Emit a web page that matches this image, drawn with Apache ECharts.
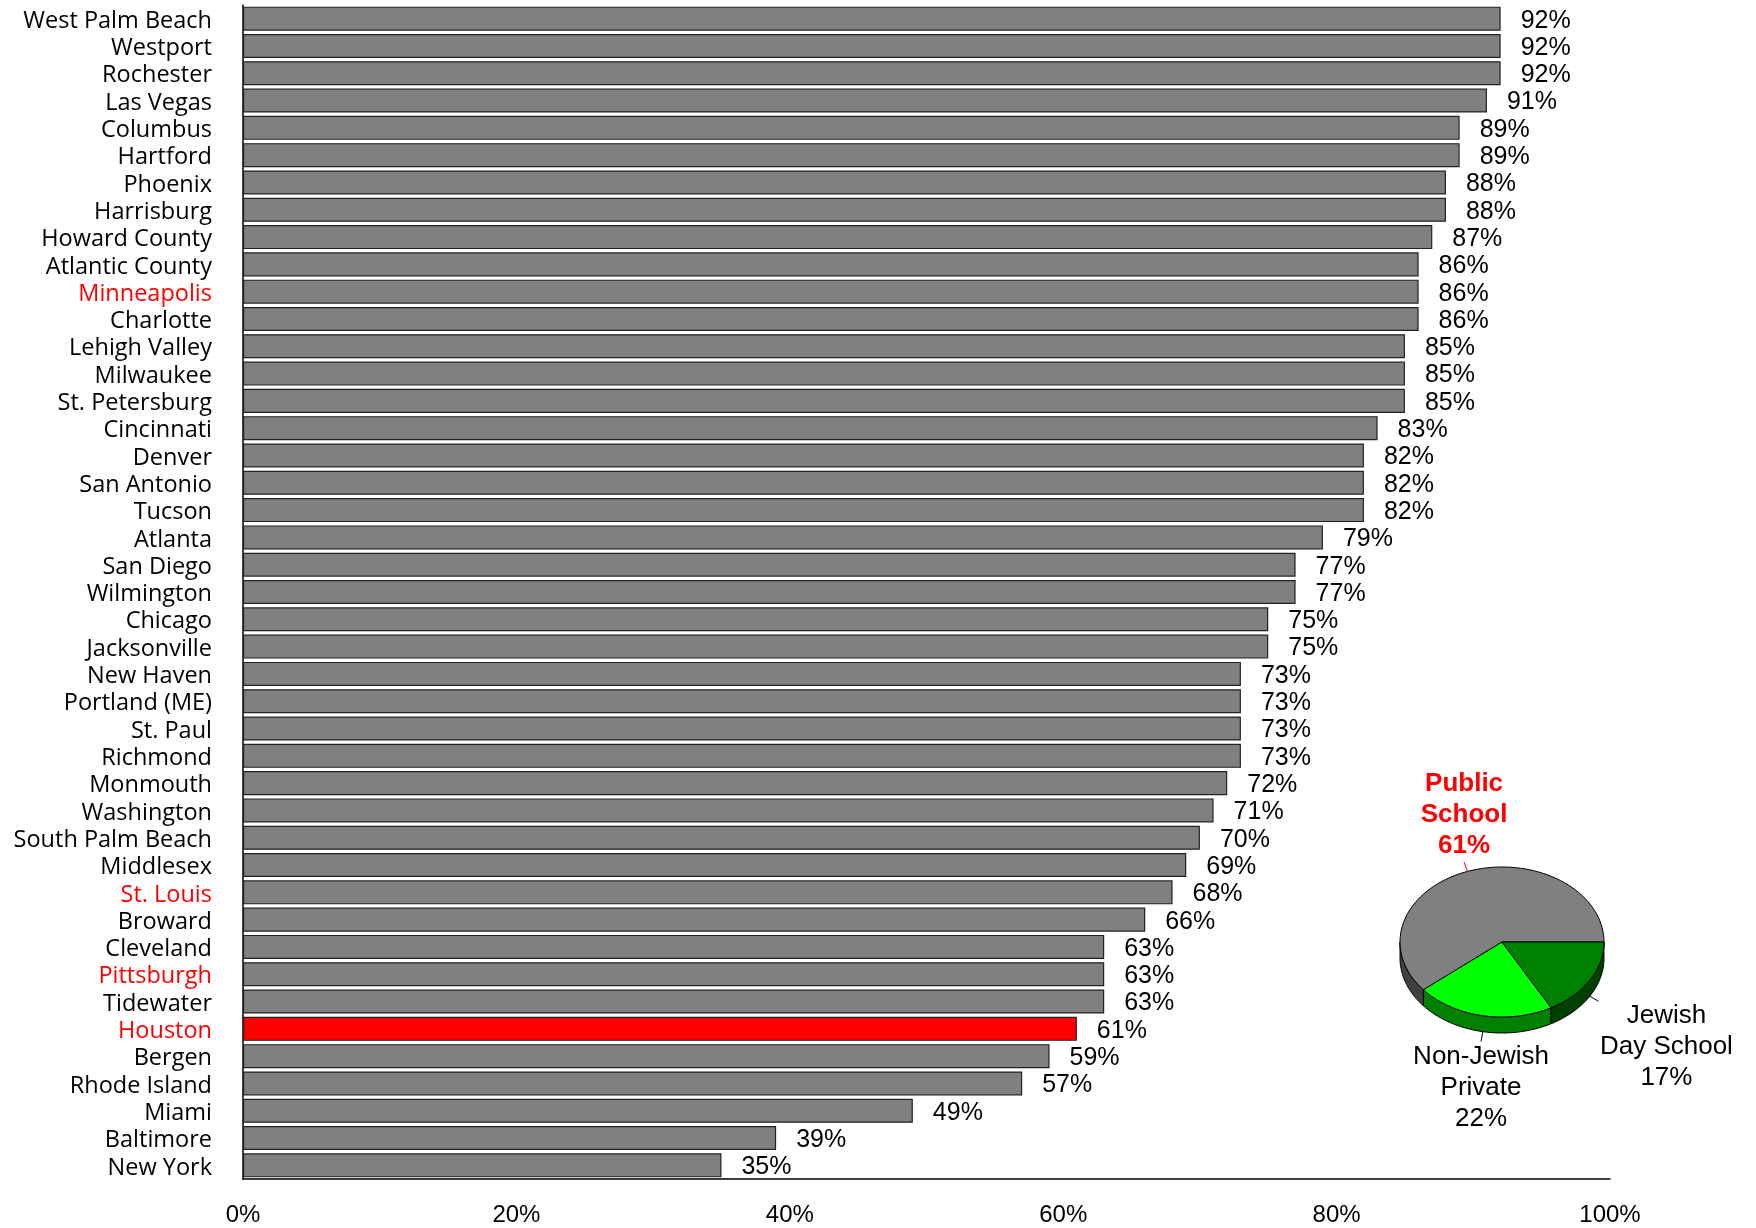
<!DOCTYPE html>
<html>
<head>
<meta charset="utf-8">
<script src="https://cdn.jsdelivr.net/npm/echarts@6/dist/echarts.min.js"></script>
<style>
html,body{margin:0;padding:0;background:#fff;}
#chart{width:1756px;height:1228px;}
</style>
</head>
<body>
<div id="chart"></div>
<script>
// ---- data ----
const cities = ["West Palm Beach","Westport","Rochester","Las Vegas","Columbus","Hartford","Phoenix","Harrisburg","Howard County","Atlantic County","Minneapolis","Charlotte","Lehigh Valley","Milwaukee","St. Petersburg","Cincinnati","Denver","San Antonio","Tucson","Atlanta","San Diego","Wilmington","Chicago","Jacksonville","New Haven","Portland (ME)","St. Paul","Richmond","Monmouth","Washington","South Palm Beach","Middlesex","St. Louis","Broward","Cleveland","Pittsburgh","Tidewater","Houston","Bergen","Rhode Island","Miami","Baltimore","New York"];
const publicSchoolPct = [92,92,92,91,89,89,88,88,87,86,86,86,85,85,85,83,82,82,82,79,77,77,75,75,73,73,73,73,72,71,70,69,68,66,63,63,63,61,59,57,49,39,35];
const highlightedCities = ["Minneapolis","St. Louis","Pittsburgh","Houston"];
const focusCity = "Houston";
const xTicks = [0,20,40,60,80,100];

const pieNames = ["Public\nSchool","Non-Jewish\nPrivate","Jewish\nDay School"];
const pieValues = [61,22,17];

// ---- styles ----
const pieColors = ["#808080","#00ff00","#008000"];
const wallColors = ["#404040","#008000","#004000"];
const pieLabelColors = ["#ff0000","#000000","#000000"];
const pieLabelWeights = ["bold","normal","normal"];
const pieLabelOffsets = [[0,-47],[0,46],[68,46]];
const CX = 1502, CY = 942, RX = 102, RY = 75, DEPTH = 16;
const cityFont = '"Open Sans", sans-serif';

function renderPie(params, api) {
  const i = params.dataIndex;
  const total = pieValues.reduce((a,b)=>a+b,0);
  let before = 0;
  for (let k=0;k<i;k++) before += pieValues[k];
  const a0 = before/total*2*Math.PI;
  const a1 = (before+api.value(0))/total*2*Math.PI;
  const P = (t,d) => [CX + RX*Math.cos(t), CY - RY*Math.sin(t) + (d||0)];
  const children = [];
  const w0 = Math.max(a0, Math.PI), w1 = Math.min(a1, 2*Math.PI);
  if (w1 > w0) {
    const pts = [];
    const n = 40;
    for (let k=0;k<=n;k++) pts.push(P(w0+(w1-w0)*k/n));
    for (let k=n;k>=0;k--) pts.push(P(w0+(w1-w0)*k/n, DEPTH));
    children.push({type:'polygon', shape:{points:pts}, style:{fill:wallColors[i], stroke:'#000', lineWidth:1}, z2:1});
  }
  const tp = [[CX,CY]];
  const n2 = 80;
  for (let k=0;k<=n2;k++) tp.push(P(a0+(a1-a0)*k/n2));
  children.push({type:'polygon', shape:{points:tp}, style:{fill:pieColors[i], stroke:'#000', lineWidth:1}, z2:2});
  const m = (a0+a1)/2;
  const d = Math.sin(m) < 0 ? DEPTH : 0;
  const s = P(m, d);
  const e = [s[0] + Math.cos(m)*10, s[1] - Math.sin(m)*10];
  children.push({type:'line', shape:{x1:s[0],y1:s[1],x2:e[0],y2:e[1]}, style:{stroke:pieLabelColors[i], lineWidth:1}, z2:3});
  children.push({type:'text', x:e[0]+pieLabelOffsets[i][0], y:e[1]+pieLabelOffsets[i][1],
    style:{text: pieNames[i] + "\n" + api.value(0) + "%", fill:pieLabelColors[i],
      font: pieLabelWeights[i] + ' 26px "Liberation Sans", Arial, sans-serif',
      lineHeight:31, align:'center', verticalAlign:'middle'}, z2:4});
  return {type:'group', children};
}

const chart = echarts.init(document.getElementById('chart'), null, {renderer:'canvas'});
const option = {
  backgroundColor:'#ffffff',
  animation:false,
  grid:{left:243, right:146, top:5, bottom:49, containLabel:false},
  xAxis:{
    type:'value', min:xTicks[0], max:xTicks[xTicks.length-1], interval:xTicks[1]-xTicks[0],
    axisLine:{show:true, lineStyle:{color:'#000', width:1.5}},
    axisTick:{show:false},
    splitLine:{show:false},
    axisLabel:{formatter:'{value}%', margin:24, fontSize:24, color:'#000', fontFamily:'"Liberation Sans", Arial, sans-serif'}
  },
  yAxis:{
    type:'category', data:cities, inverse:true,
    axisLine:{show:true, lineStyle:{color:'#000', width:1.5}},
    axisTick:{show:false},
    axisLabel:{
      interval:0, margin:31, fontSize:23.5, fontFamily:cityFont,
      formatter:(v)=> highlightedCities.includes(v) ? '{r|'+v+'}' : '{k|'+v+'}',
      rich:{
        r:{color:'#ff0000', fontSize:23.5, fontFamily:cityFont, padding:[5,0,0,0]},
        k:{color:'#000000', fontSize:23.5, fontFamily:cityFont, padding:[5,0,0,0]}
      }
    }
  },
  series:[
    {
      type:'bar',
      barCategoryGap:'12%',
      data: publicSchoolPct.map((v,i)=>({
        value:v,
        itemStyle: cities[i]===focusCity ? {color:'#ff0000'} : undefined
      })),
      itemStyle:{color:'#808080', borderColor:'#222', borderWidth:1.2},
      label:{show:true, position:'right', distance:20, offset:[0,2], formatter:'{c}%', fontSize:25, color:'#000', fontFamily:'"Liberation Sans", Arial, sans-serif'}
    },
    {
      type:'custom',
      coordinateSystem:'none',
      renderItem: renderPie,
      data: pieValues.map(v=>[v]),
      silent:true
    }
  ]
};
chart.setOption(option);
</script>
</body>
</html>
